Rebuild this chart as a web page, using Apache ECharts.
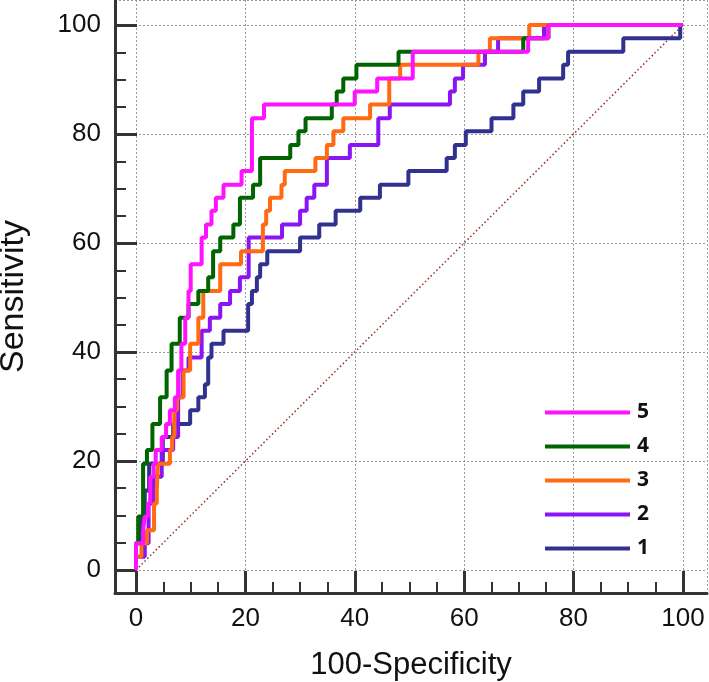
<!DOCTYPE html>
<html>
<head>
<meta charset="utf-8">
<script src="https://cdn.jsdelivr.net/npm/echarts@6/dist/echarts.min.js"></script>
<style>
html,body{margin:0;padding:0;background:#fff;}
#chart{width:709px;height:682px;}
</style>
</head>
<body>
<div id="chart"></div>
<script>
// ---- data ----
const majorTicks = [0, 20, 40, 60, 80, 100];
const minorTicks = [5, 10, 15, 25, 30, 35, 45, 50, 55, 65, 70, 75, 85, 90, 95];
const seriesNames = ['1', '2', '3', '4', '5'];
const curve1 = [[0,0],[0,4.9],[1.0,9.8],[1.6,14.6],[2.4,19.5],[4.9,24.4],[6.8,26.8],[9.9,29.3],[11.4,31.7],[12.6,34.1],[13.2,39.0],[13.8,41.5],[16.0,43.9],[20.5,48.8],[21.2,51.2],[22.1,53.7],[22.7,56.1],[24.0,58.5],[30.0,61.0],[33.5,63.4],[36.5,65.9],[41.0,68.3],[44.6,70.7],[49.8,73.2],[56.8,75.6],[58.3,78.0],[60.3,80.5],[65.0,82.9],[69.0,85.4],[70.8,87.8],[73.7,90.2],[78.1,92.7],[79.0,95.1],[89.1,97.6],[99.5,100],[100,100]];
const curve2 = [[0,0],[0,2.4],[1.6,4.9],[2.3,12.2],[3.2,17.1],[4.7,22.0],[6.8,24.4],[7.7,31.7],[8.5,36.6],[9.6,39.0],[12.0,43.9],[13.5,46.3],[15.4,48.8],[17.2,51.2],[19.0,53.7],[20.6,61.0],[26.7,63.4],[30.0,65.9],[31.2,68.3],[32.6,70.7],[34.9,75.6],[39.1,78.0],[44.3,82.9],[46.4,85.4],[57.4,87.8],[58.3,90.2],[59.8,92.7],[63.8,95.1],[66.2,97.6],[74.6,100],[100,100]];
const curve3 = [[0,0],[0,2.4],[1.0,4.9],[2.0,7.3],[3.3,12.2],[3.8,14.6],[4.0,19.5],[6.2,22.0],[6.6,24.4],[7.0,29.3],[7.5,31.7],[8.7,36.6],[9.9,41.5],[11.4,46.3],[12.3,51.2],[15.4,56.1],[19.2,58.5],[23.2,63.4],[23.8,65.9],[24.5,68.3],[26.6,70.7],[27.2,73.2],[32.8,75.6],[34.9,78.0],[36.1,80.5],[37.9,82.9],[42.8,85.4],[46.3,90.2],[48.3,92.7],[62.6,95.1],[64.7,97.6],[71.9,100],[100,100]];
const curve4 = [[0,0],[0,4.9],[0.4,9.8],[1.3,19.5],[2.0,22.0],[3.0,26.8],[4.4,31.7],[5.6,36.6],[6.5,41.5],[8.0,46.3],[9.6,48.8],[11.4,51.2],[13.2,53.7],[14.1,58.5],[15.4,61.0],[17.8,63.4],[19.0,68.3],[21.4,70.7],[22.7,75.6],[28.2,78.0],[29.7,80.5],[31.0,82.9],[35.8,85.4],[36.7,87.8],[37.9,90.2],[40.3,92.7],[48.0,95.1],[70.8,97.6],[75.4,100],[100,100]];
const curve5 = [[0,0],[0,4.9],[1.3,7.3],[1.6,9.8],[2.2,12.2],[2.6,17.1],[3.2,19.5],[3.6,22.0],[4.7,24.4],[5.5,26.8],[6.2,29.3],[7.1,31.7],[7.7,36.6],[8.3,41.5],[9.0,46.3],[9.6,51.2],[10.0,56.1],[12.0,61.0],[12.8,63.4],[13.8,65.9],[14.6,68.3],[16.0,70.7],[19.3,73.2],[21.2,82.9],[23.4,85.4],[40.0,87.8],[44.1,90.2],[50.6,95.1],[71.7,97.6],[75.4,100],[100,100]];
const diagonal = [[0,0],[100,100]];
const curves = [curve1, curve2, curve3, curve4, curve5];
const colors = ['#31328f', '#8b14f2', '#ff6a13', '#006400', '#ff12ff'];

// ---- chart ----
const chart = echarts.init(document.getElementById('chart'), null, {renderer: 'canvas'});
const axisColor = '#333';
const font = 'Liberation Sans, Arial, sans-serif';
const xMin = -3.84, xMax = 104.4, yMin = -4.23, yMax = 104.6;
const gridRect = {left: 115, right: 2, top: 0, bottom: 89, containLabel: false, outerBoundsMode: 'none'};

const series = [{
  name: 'ref', type: 'line', data: diagonal, symbol: 'none', silent: true,
  lineStyle: {color: '#9b2a2a', width: 1.5, type: [1.5, 2.5]}, z: 1
}];
curves.forEach((c, i) => {
  series.push({
    name: seriesNames[i], type: 'line', data: c, step: 'end', symbol: 'none',
    lineStyle: {color: colors[i], width: 4}, itemStyle: {color: colors[i]}, z: 2 + i
  });
});

function tickAxis(kind, gridIndex, values, len, width) {
  return {
    type: 'value', gridIndex: gridIndex,
    min: kind === 'x' ? xMin : yMin, max: kind === 'x' ? xMax : yMax,
    position: kind === 'x' ? 'bottom' : 'left',
    axisLine: {show: false, onZero: false},
    axisTick: {show: true, inside: true, length: len, customValues: values, lineStyle: {color: axisColor, width: width}},
    axisLabel: {show: false},
    splitLine: {show: false}
  };
}

chart.setOption({
  animation: false,
  backgroundColor: '#fff',
  grid: [Object.assign({}, gridRect), Object.assign({}, gridRect), Object.assign({}, gridRect)],
  legend: {
    data: ['5', '4', '3', '2', '1'], orient: 'vertical', left: 540, top: 397,
    icon: 'rect', itemWidth: 85, itemHeight: 4, itemGap: 13,
    textStyle: {fontSize: 21, fontWeight: 'bold', color: '#111', fontFamily: 'Noto Sans, sans-serif', lineHeight: 20, padding: [0, 0, 0, 2]}
  },
  xAxis: [{
    type: 'value', gridIndex: 0, min: xMin, max: xMax, position: 'bottom',
    name: '100-Specificity', nameLocation: 'middle', nameGap: 57,
    nameTextStyle: {fontSize: 31, color: '#111', fontFamily: font},
    axisLine: {show: true, onZero: false, lineStyle: {color: axisColor, width: 3}},
    axisTick: {show: false},
    axisLabel: {show: true, customValues: majorTicks, margin: 13, fontSize: 26, color: '#111', fontFamily: font, hideOverlap: false},
    splitLine: {show: true, lineStyle: {color: '#999', width: 1, type: [2, 2]}}
  }, tickAxis('x', 1, minorTicks, 11, 2), tickAxis('x', 2, majorTicks, 22, 3)],
  yAxis: [{
    type: 'value', gridIndex: 0, min: yMin, max: yMax, position: 'left',
    name: 'Sensitivity', nameLocation: 'middle', nameGap: 84,
    nameTextStyle: {fontSize: 34, color: '#111', fontFamily: font},
    axisLine: {show: true, onZero: false, lineStyle: {color: axisColor, width: 3}},
    axisTick: {show: false},
    axisLabel: {show: true, customValues: majorTicks, margin: 14, fontSize: 26, color: '#111', fontFamily: font, hideOverlap: false},
    splitLine: {show: true, lineStyle: {color: '#999', width: 1, type: [2, 2]}}
  }, tickAxis('y', 1, minorTicks, 11, 2), tickAxis('y', 2, majorTicks, 22, 3)],
  series: series
});
</script>
</body>
</html>
